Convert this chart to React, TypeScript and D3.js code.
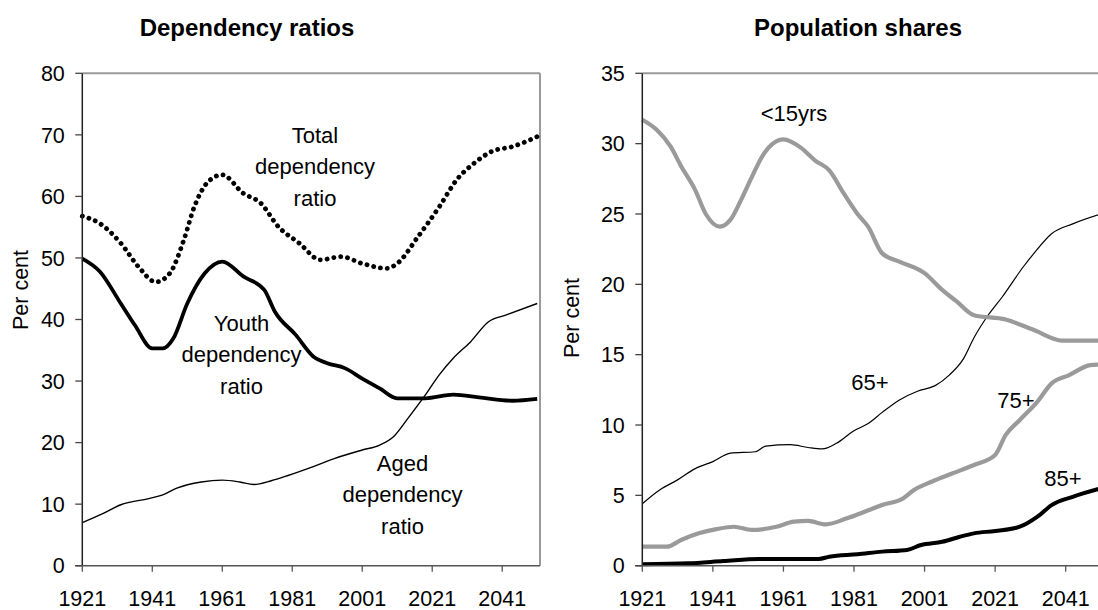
import React from "react";
import * as d3 from "d3";

// ---------- Data ----------
const leftTicksY = [0, 10, 20, 30, 40, 50, 60, 70, 80];
const rightTicksY = [0, 5, 10, 15, 20, 25, 30, 35];
const tickYears = [1921, 1941, 1961, 1981, 2001, 2021, 2041];

const totalYears = [1921, 1926, 1932, 1937, 1942, 1946, 1950, 1953, 1957, 1961, 1967, 1972, 1977, 1983, 1989, 1995, 2001, 2008, 2011, 2017, 2023, 2028, 2033, 2038, 2044, 2051];
const totalVals = [56.8, 55.6, 52.4, 48.6, 46.1, 47.5, 52.9, 58.3, 62.4, 63.5, 60.5, 58.9, 55.1, 52.4, 49.7, 50.2, 49.1, 48.3, 49.1, 53.5, 58.3, 62.7, 65.4, 67.3, 68.1, 69.7];

const youthYears = [1921, 1926, 1932, 1936, 1941, 1944, 1947, 1951, 1956, 1961, 1967, 1973, 1976, 1982, 1987, 1991, 1996, 2001, 2006, 2011, 2019, 2027, 2035, 2044, 2051];
const youthVals = [49.9, 47.8, 42.6, 39.1, 35.3, 35.3, 36.9, 42.6, 47.5, 49.4, 47.0, 44.8, 41.3, 37.5, 34.0, 32.9, 32.1, 30.4, 28.8, 27.2, 27.2, 27.8, 27.3, 26.8, 27.1];

const agedYears = [1921, 1927, 1932, 1940, 1944, 1948, 1955, 1961, 1966, 1970, 1975, 1980, 1987, 1993, 2001, 2006, 2010, 2014, 2019, 2023, 2027, 2032, 2037, 2042, 2051];
const agedVals = [7.0, 8.5, 9.9, 10.9, 11.5, 12.6, 13.6, 13.9, 13.6, 13.2, 13.8, 14.7, 16.1, 17.4, 18.8, 19.6, 21.0, 23.9, 27.7, 31.0, 33.7, 36.4, 39.6, 40.7, 42.6];

const u15Years = [1921, 1925, 1929, 1932, 1936, 1939, 1943, 1946, 1949, 1952, 1955, 1961, 1966, 1970, 1974, 1978, 1982, 1985, 1989, 1994, 2001, 2006, 2010, 2015, 2024, 2032, 2040, 2051];
const u15Vals = [31.7, 31.0, 29.8, 28.4, 26.7, 25.0, 24.1, 24.6, 26.0, 27.6, 29.1, 30.3, 29.7, 28.8, 28.1, 26.5, 25.0, 24.1, 22.2, 21.6, 20.8, 19.6, 18.8, 17.8, 17.5, 16.75, 16.0, 16.0];

const o65Years = [1921, 1926, 1931, 1936, 1941, 1946, 1953, 1956, 1963, 1968, 1972, 1976, 1981, 1985, 1989, 1994, 1999, 2004, 2008, 2012, 2015, 2019, 2023, 2029, 2032, 2037, 2043, 2051];
const o65Vals = [4.4, 5.4, 6.1, 6.9, 7.4, 8.0, 8.1, 8.5, 8.6, 8.4, 8.3, 8.7, 9.6, 10.1, 10.9, 11.8, 12.4, 12.8, 13.55, 14.7, 16.2, 17.8, 19.1, 21.25, 22.2, 23.6, 24.3, 25.0];

const o75Years = [1921, 1928, 1932, 1937, 1942, 1947, 1952, 1959, 1964, 1968, 1973, 1979, 1984, 1989, 1995, 1998, 2003, 2009, 2015, 2021, 2024, 2028, 2033, 2037, 2042, 2048, 2051];
const o75Vals = [1.35, 1.35, 1.83, 2.3, 2.6, 2.77, 2.54, 2.77, 3.13, 3.18, 2.94, 3.37, 3.84, 4.31, 4.8, 5.38, 5.97, 6.57, 7.16, 7.87, 9.3, 10.36, 11.66, 12.96, 13.55, 14.26, 14.3];

const o85Years = [1921, 1934, 1944, 1954, 1971, 1974, 1982, 1989, 1996, 2000, 2006, 2011, 2015, 2021, 2028, 2033, 2037, 2043, 2051];
const o85Vals = [0.1, 0.17, 0.33, 0.48, 0.48, 0.64, 0.81, 1.0, 1.12, 1.47, 1.7, 2.06, 2.3, 2.47, 2.77, 3.48, 4.31, 4.9, 5.5];

// ---------- Layout ----------
const FONT = "'Liberation Sans', Arial, sans-serif";
const GRAY = "#9a9a9a";
const TOP = 73.3;
const BOTTOM = 565.7;

type Series = { years: number[]; vals: number[]; stroke: string; width: number; dash?: string };

function zip(years: number[], vals: number[]): [number, number][] {
  return years.map((y, i) => [y, vals[i]]);
}

function Panel(props: {
  left: number;
  right: number;
  yMax: number;
  yTicks: number[];
  title: string;
  titleX: number;
  labelX: number;
  labelY: number;
  series: Series[];
  notes: { lines: string[]; x: number; y: number }[];
}) {
  const { left, right, yMax, yTicks, title, titleX, labelX, labelY, series, notes } = props;
  const x = d3.scaleLinear().domain([1921, 2051.8]).range([left, right]);
  const y = d3.scaleLinear().domain([0, yMax]).range([BOTTOM, TOP]);
  const line = d3
    .line<[number, number]>()
    .x((d) => x(d[0]))
    .y((d) => y(d[1]))
    .curve(d3.curveMonotoneX);
  return (
    <g fontFamily={FONT} fill="#000">
      <text x={titleX} y={36} textAnchor="middle" fontWeight="bold" fontSize={24}>
        {title}
      </text>
      {/* plot border (top, right) */}
      <line x1={left} x2={right} y1={TOP} y2={TOP} stroke={GRAY} strokeWidth={2} />
      <line x1={right} x2={right} y1={TOP} y2={BOTTOM} stroke={GRAY} strokeWidth={2} />
      {series.map((s, i) => (
        <path
          key={i}
          d={line(zip(s.years, s.vals)) || ""}
          fill="none"
          stroke={s.stroke}
          strokeWidth={s.width}
          strokeDasharray={s.dash}
          strokeLinecap={s.dash ? "round" : "butt"}
          strokeLinejoin="round"
        />
      ))}
      {/* axes */}
      <line x1={left} x2={left} y1={TOP} y2={BOTTOM} stroke="#222" strokeWidth={1.5} />
      <line x1={left - 7} x2={right} y1={BOTTOM} y2={BOTTOM} stroke="#555" strokeWidth={1.6} />
      {yTicks.map((t) => (
        <g key={t}>
          <line x1={left - 7} x2={left} y1={y(t)} y2={y(t)} stroke="#444" strokeWidth={1.3} />
          <text x={left - 17.5} y={y(t)} dy="0.36em" textAnchor="end" fontSize={21.5}>
            {t}
          </text>
        </g>
      ))}
      {tickYears.map((t) => (
        <g key={t}>
          <line x1={x(t)} x2={x(t)} y1={BOTTOM} y2={BOTTOM + 6} stroke="#555" strokeWidth={1.3} />
          <text x={x(t)} y={606} textAnchor="middle" fontSize={21.5}>
            {t}
          </text>
        </g>
      ))}
      <text
        transform={`translate(${labelX},${labelY}) rotate(-90)`}
        textAnchor="middle"
        dy="0.36em"
        fontSize={21.5}
      >
        Per cent
      </text>
      {notes.map((n, i) => (
        <text key={i} textAnchor="middle" fontSize={22}>
          {n.lines.map((l, j) => (
            <tspan key={j} x={n.x} y={n.y + j * 31.3}>
              {l}
            </tspan>
          ))}
        </text>
      ))}
    </g>
  );
}

export default function App() {
  return (
    <svg
      width={1098}
      height={610}
      style={{ position: "absolute", left: 0, top: 0, background: "#fff" }}
    >
      <rect width={1098} height={610} fill="#fff" />
      <Panel
        left={82.3}
        right={540}
        yMax={80}
        yTicks={leftTicksY}
        title="Dependency ratios"
        titleX={247}
        labelX={20}
        labelY={290}
        series={[
          { years: agedYears, vals: agedVals, stroke: "#000", width: 1.4 },
          { years: youthYears, vals: youthVals, stroke: "#000", width: 3.8 },
          { years: totalYears, vals: totalVals, stroke: "#000", width: 4.8, dash: "0.1 6.8" },
        ]}
        notes={[
          { lines: ["Total", "dependency", "ratio"], x: 315, y: 143 },
          { lines: ["Youth", "dependency", "ratio"], x: 241.5, y: 331 },
          { lines: ["Aged", "dependency", "ratio"], x: 402.5, y: 471 },
        ]}
      />
      <Panel
        left={642.3}
        right={1103.8}
        yMax={35}
        yTicks={rightTicksY}
        title="Population shares"
        titleX={858}
        labelX={571}
        labelY={318}
        series={[
          { years: o65Years, vals: o65Vals, stroke: "#000", width: 1.2 },
          { years: u15Years, vals: u15Vals, stroke: GRAY, width: 4.2 },
          { years: o75Years, vals: o75Vals, stroke: GRAY, width: 4.2 },
          { years: o85Years, vals: o85Vals, stroke: "#000", width: 4 },
        ]}
        notes={[
          { lines: ["<15yrs"], x: 794, y: 121 },
          { lines: ["65+"], x: 870, y: 390 },
          { lines: ["75+"], x: 1016, y: 408 },
          { lines: ["85+"], x: 1063, y: 486 },
        ]}
      />
    </svg>
  );
}
